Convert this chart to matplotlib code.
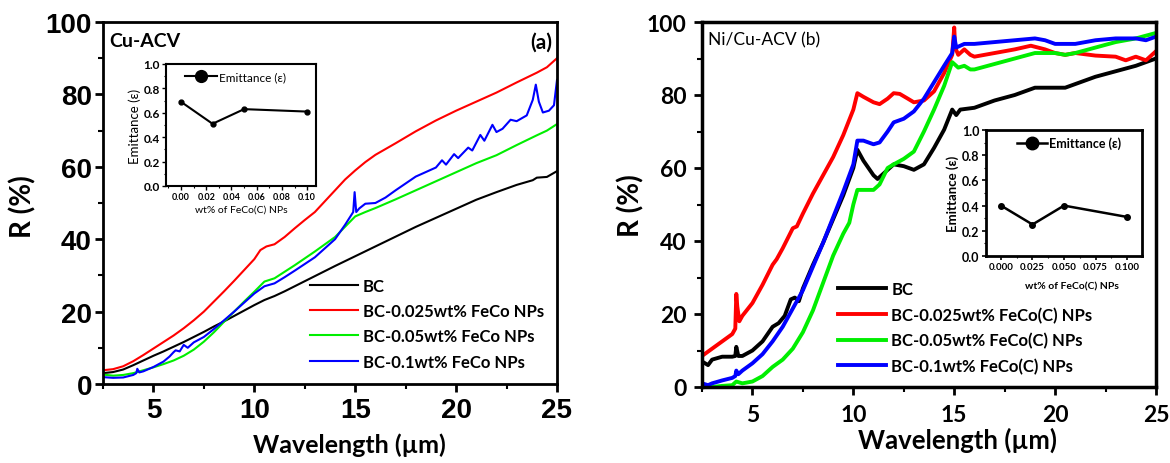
import matplotlib
matplotlib.use("Agg")
import matplotlib.pyplot as plt
from matplotlib.ticker import MultipleLocator, FormatStrFormatter
from matplotlib.lines import Line2D

# ---------------- data: panel (a) Cu-ACV ----------------
a_bc_x = [2.5, 3, 3.5, 4, 4.5, 5, 5.5, 6, 6.5, 7, 7.5, 8, 8.5, 9, 9.5, 10, 10.5, 11, 11.5, 12, 13, 14, 15,
          16, 17, 18, 19, 20, 21, 22, 23, 23.8, 24, 24.5, 25]
a_bc_y = [3.0, 3.3, 4.0, 5.2, 6.5, 7.8, 9.0, 10.3, 11.6, 13.0, 14.4, 15.9, 17.3, 18.8, 20.3, 21.8, 23.2, 24.3,
          25.6, 27.0, 29.8, 32.6, 35.3, 38.0, 40.7, 43.4, 45.9, 48.4, 50.9, 53.0, 55.0, 56.3, 57.0, 57.2, 58.8]

a_red_x = [2.5, 3, 3.5, 4, 4.5, 5, 5.5, 6, 6.5, 7, 7.5, 8, 8.5, 9, 9.5, 10, 10.3, 10.6, 11, 11.5, 12, 12.5, 13,
           13.5, 14, 14.5, 15, 15.5, 16, 17, 18, 19, 20, 21, 22, 23, 24, 24.5, 25]
a_red_y = [3.8, 4.1, 4.9, 6.3, 8.0, 9.8, 11.6, 13.4, 15.4, 17.6, 20.0, 22.8, 25.6, 28.5, 31.5, 34.5, 37.0, 38.0,
           38.6, 40.6, 43.0, 45.3, 47.5, 50.5, 53.5, 56.5, 59.0, 61.3, 63.3, 66.5, 69.8, 72.8, 75.5, 78.0, 80.5,
           83.3, 86.0, 87.5, 90.0]

a_grn_x = [2.5, 3, 3.5, 4, 4.5, 5, 5.5, 6, 6.5, 7, 7.5, 8, 8.5, 9, 9.5, 10, 10.5, 11, 12, 13, 14, 15, 15.5, 16,
           17, 18, 19, 20, 21, 22, 23, 24, 24.5, 25]
a_grn_y = [2.6, 2.3, 2.5, 3.0, 3.8, 4.6, 5.5, 6.5, 7.8, 9.5, 11.7, 14.3, 17.2, 20.0, 22.8, 25.5, 28.3, 29.2, 32.8,
           36.6, 40.6, 46.3, 47.5, 48.6, 51.0, 53.5, 56.0, 58.5, 61.0, 63.2, 66.0, 68.7, 70.0, 71.8]

a_blu_x = [2.5, 3, 3.5, 4, 4.15, 4.2, 4.3, 4.5, 5, 5.5, 5.8, 6, 6.1, 6.3, 6.5, 6.7, 7, 7.5, 8, 8.5, 9, 9.5, 10,
           10.5, 11, 11.5, 12, 13, 14, 14.5, 14.9, 14.97, 15.05, 15.2, 15.5, 16, 16.5, 17, 18, 19, 19.3, 19.5,
           19.9, 20.1, 20.6, 20.8, 21.2, 21.4, 21.8, 22.0, 22.3, 22.7, 23.0, 23.5, 23.8, 23.95, 24.1, 24.3, 24.6,
           24.85, 25]
a_blu_y = [1.9, 1.7, 1.8, 2.5, 3.0, 4.2, 3.2, 3.5, 4.7, 6.2, 7.6, 8.8, 9.3, 9.0, 10.8, 10.0, 11.5, 13.0, 15.2,
           17.6, 20.0, 22.5, 25.0, 27.0, 27.8, 29.5, 31.3, 35.0, 40.0, 44.0, 47.5, 53.0, 47.5, 48.5, 49.8, 50.0,
           51.5, 53.5, 57.3, 59.8, 61.8, 60.6, 63.5, 62.4, 65.3, 64.5, 68.8, 67.2, 71.6, 69.6, 70.5, 73.0, 72.6,
           74.2, 78.5, 82.7, 78.0, 75.0, 75.5, 77.0, 84.0]

# ---------------- data: panel (b) Ni/Cu-ACV ----------------
b_bc_x = [2.5, 2.8, 3.0, 3.5, 4.0, 4.15, 4.2, 4.3, 4.5, 5, 5.5, 6, 6.3, 6.6, 6.9, 7.1, 7.3, 7.5, 8, 8.5, 9, 9.5,
          10, 10.2, 10.5, 11, 11.2, 11.5, 12, 12.5, 13, 13.5, 14, 14.5, 14.9, 15.1, 15.3, 16, 17, 18, 19, 20,
          20.5, 21, 22, 23, 24, 25]
b_bc_y = [7.0, 6.0, 7.5, 8.3, 8.3, 8.5, 11.0, 8.5, 8.5, 10.0, 12.5, 16.5, 17.5, 19.5, 24.0, 24.5, 23.5, 27.0,
          33.5, 39.5, 46.0, 52.5, 60.0, 65.0, 62.0, 58.0, 57.0, 58.5, 61.0, 60.5, 59.5, 61.0, 65.5, 70.5, 76.0,
          74.5, 76.0, 76.5, 78.5, 80.0, 82.0, 82.0, 82.0, 83.0, 85.0, 86.5, 88.0, 90.0]

b_red_x = [2.5, 3, 3.5, 4, 4.15, 4.2, 4.25, 4.35, 4.5, 5, 5.5, 6, 6.2, 6.5, 7, 7.2, 7.5, 8, 8.5, 9, 9.5, 10,
           10.2, 10.5, 11, 11.3, 11.7, 12, 12.3, 12.7, 13, 13.5, 14, 14.5, 14.9, 15.0, 15.05, 15.2, 15.5, 15.8,
           16, 17, 18, 18.8, 19.5, 20, 20.5, 21, 22, 23, 23.5, 24, 24.5, 25]
b_red_y = [8.5, 10.5, 12.5, 14.5, 16.0, 25.5, 22.0, 18.0, 19.5, 23.0, 28.0, 33.5, 35.0, 38.0, 43.5, 44.0, 47.5,
           53.0, 58.0, 63.0, 69.0, 76.0, 80.5, 79.5, 78.0, 77.5, 79.0, 80.5, 80.3, 79.0, 78.0, 78.5, 81.0, 86.0,
           91.0, 98.5, 93.0, 91.0, 92.5, 91.0, 90.5, 91.5, 92.5, 93.5, 92.5, 91.5, 91.0, 91.5, 90.8, 90.5, 89.5,
           90.5, 89.5, 92.0]

b_grn_x = [2.5, 3, 3.5, 4, 4.2, 4.5, 5, 5.5, 6, 6.5, 7, 7.5, 8, 8.5, 9, 9.5, 9.8, 10, 10.2, 10.5, 11, 11.3, 11.7,
           12, 12.5, 13, 13.5, 14, 14.5, 14.9, 15.2, 15.5, 15.8, 16, 17, 18, 19, 20, 20.5, 21, 22, 23, 24, 25]
b_grn_y = [0.0, 0.0, 0.3, 0.5, 1.5, 1.0, 1.5, 3.0, 5.5, 7.5, 10.5, 15.0, 21.0, 28.5, 36.0, 42.0, 45.0, 50.0,
           54.0, 54.0, 54.0, 55.5, 60.0, 61.0, 62.5, 64.5, 70.0, 76.0, 82.5, 89.0, 87.5, 88.0, 87.0, 87.0, 88.5,
           90.0, 91.5, 91.5, 91.0, 91.5, 93.0, 94.5, 95.5, 97.0]

b_blu_x = [2.5, 2.8, 3, 3.5, 4, 4.15, 4.2, 4.3, 4.5, 5, 5.5, 6, 6.5, 7, 7.5, 8, 8.5, 9, 9.5, 10, 10.2, 10.5, 11,
           11.3, 11.7, 12, 12.5, 13, 13.5, 14, 14.5, 14.9, 15.0, 15.1, 15.5, 16, 17, 18, 19, 19.5, 20, 20.5, 21,
           22, 23, 24, 24.5, 25]
b_blu_y = [1.0, 0.5, 1.0, 1.8, 2.5, 3.0, 4.5, 3.5, 4.5, 6.5, 9.0, 12.5, 16.5, 21.5, 26.5, 33.0, 39.5, 46.5, 53.5,
           61.0, 67.5, 67.5, 66.5, 67.0, 70.0, 72.5, 73.5, 75.5, 79.0, 83.5, 88.0, 91.5, 96.0, 93.0, 94.0, 94.0,
           94.5, 95.0, 95.5, 95.0, 94.0, 94.0, 94.0, 95.0, 95.5, 95.5, 95.0, 96.0]

# ---------------- inset data ----------------
emit_x = [0.0, 0.025, 0.05, 0.10]
a_emit = [0.69, 0.51, 0.63, 0.61]
b_emit = [0.40, 0.25, 0.40, 0.31]

labels_a = ["BC", "BC-0.025wt% FeCo NPs", "BC-0.05wt% FeCo NPs", "BC-0.1wt% FeCo NPs"]
labels_b = ["BC", "BC-0.025wt% FeCo(C) NPs", "BC-0.05wt% FeCo(C) NPs", "BC-0.1wt% FeCo(C) NPs"]
colors = ["#000000", "#ff0000", "#00ee00", "#0000ff"]

HUM = ["Lato", "DejaVu Sans"]
ARI = ["Liberation Sans", "DejaVu Sans"]

W, H = 1170, 464
fig = plt.figure(figsize=(W / 100, H / 100), dpi=100)


def box(x0, y0, x1, y1):
    return [x0 / W, 1 - y1 / H, (x1 - x0) / W, (y1 - y0) / H]


def ftext(x, y, s, **kw):
    fig.text(x / W, 1 - y / H, s, ha="center", va="center", **kw)


# ================= panel (a) =================
ax1 = fig.add_axes(box(103, 23, 557, 385))
for xs, ys, c, lab in zip([a_bc_x, a_red_x, a_grn_x, a_blu_x], [a_bc_y, a_red_y, a_grn_y, a_blu_y], colors, labels_a):
    ax1.plot(xs, ys, color=c, lw=1.5, label=lab)
ax1.set_xlim(2.5, 25)
ax1.set_ylim(0, 100)
ax1.xaxis.set_major_locator(MultipleLocator(5))
ax1.xaxis.set_minor_locator(MultipleLocator(2.5))
ax1.yaxis.set_major_locator(MultipleLocator(20))
ax1.yaxis.set_minor_locator(MultipleLocator(10))
for s in ax1.spines.values():
    s.set_linewidth(2)
ax1.tick_params(which="major", direction="out", length=6, width=2, pad=2)
ax1.tick_params(which="minor", direction="out", length=3.5, width=1.5)
ax1.tick_params(axis="x", which="major", pad=3)
for lbl in ax1.get_xticklabels() + ax1.get_yticklabels():
    lbl.set_family(ARI)
    lbl.set_fontweight("bold")
    lbl.set_fontsize(20)
ax1.text(0.014, 0.948, "Cu-ACV", transform=ax1.transAxes, family=HUM, fontweight="bold",
         fontsize=14, ha="left", va="center")
ax1.text(0.99, 0.945, "(a)", transform=ax1.transAxes, family=HUM, fontweight="bold",
         fontsize=15, ha="right", va="center")
leg1 = ax1.legend(loc="upper left", bbox_to_anchor=(0.456, 0.294), frameon=False, borderpad=0,
                  borderaxespad=0, handlelength=2.85, handletextpad=0.3, labelspacing=0.56,
                  prop={"family": HUM, "weight": "bold", "size": 12})
ftext(23, 207, "R (%)", family=HUM, fontweight="bold", fontsize=20, rotation=90)
ftext(349, 445, "Wavelength (\u00b5m)", family=HUM, fontweight="bold", fontsize=18)

# inset (a)
in1 = fig.add_axes(box(166, 65, 316, 187))
in1.plot(emit_x, a_emit, color="black", lw=1.5, marker="o", ms=3.5)
in1.set_xlim(-0.0119, 0.107)
in1.set_ylim(0, 1)
in1.xaxis.set_major_locator(MultipleLocator(0.02))
in1.xaxis.set_minor_locator(MultipleLocator(0.01))
in1.yaxis.set_major_locator(MultipleLocator(0.2))
in1.yaxis.set_minor_locator(MultipleLocator(0.1))
in1.xaxis.set_major_formatter(FormatStrFormatter("%.2f"))
in1.yaxis.set_major_formatter(FormatStrFormatter("%.1f"))
for s in in1.spines.values():
    s.set_linewidth(1.5)
in1.tick_params(which="major", direction="out", length=3, width=1, pad=1.5)
in1.tick_params(which="minor", direction="out", length=1.5, width=0.8)
for lbl in in1.get_xticklabels():
    lbl.set_family(HUM); lbl.set_fontweight("bold"); lbl.set_fontsize(6.5)
for lbl in in1.get_yticklabels():
    lbl.set_family(HUM); lbl.set_fontweight("bold"); lbl.set_fontsize(8.5)
in1.set_ylabel("Emittance (\u03b5)", family=HUM, fontsize=9.5, labelpad=2)
ftext(241, 210, "wt% of FeCo(C) NPs", family=HUM, fontsize=7.5)
h1 = Line2D([], [], color="black", lw=1.5, marker="o", ms=8.5)
in1.legend([h1], ["Emittance (\u03b5)"], loc="center left", bbox_to_anchor=(0.127, 0.893), frameon=False,
           borderpad=0, borderaxespad=0, handlelength=2.7, handletextpad=0.2,
           prop={"family": HUM, "size": 8.5})

# ================= panel (b) =================
ax2 = fig.add_axes(box(702, 23, 1156, 388))
for xs, ys, c, lab in zip([b_bc_x, b_red_x, b_grn_x, b_blu_x], [b_bc_y, b_red_y, b_grn_y, b_blu_y], colors, labels_b):
    ax2.plot(xs, ys, color=c, lw=2.8, label=lab)
ax2.set_xlim(2.5, 25)
ax2.set_ylim(0, 100)
ax2.xaxis.set_major_locator(MultipleLocator(5))
ax2.xaxis.set_minor_locator(MultipleLocator(2.5))
ax2.yaxis.set_major_locator(MultipleLocator(20))
ax2.yaxis.set_minor_locator(MultipleLocator(10))
for s in ax2.spines.values():
    s.set_linewidth(2.5)
ax2.tick_params(which="major", direction="out", length=6, width=2, pad=5)
ax2.tick_params(which="minor", direction="out", length=3.5, width=1.5)
ax2.tick_params(axis="x", which="major", pad=6)
for lbl in ax2.get_xticklabels() + ax2.get_yticklabels():
    lbl.set_family(HUM)
    lbl.set_fontweight("bold")
    lbl.set_fontsize(16.5)
ax2.text(0.013, 0.953, "Ni/Cu-ACV (b)", transform=ax2.transAxes, family=HUM,
         fontsize=12.5, ha="left", va="center")
leg2 = ax2.legend(loc="upper left", bbox_to_anchor=(0.2996, 0.29), frameon=False, borderpad=0,
                  borderaxespad=0, handlelength=2.9, handletextpad=0.3, labelspacing=0.56,
                  prop={"family": HUM, "weight": "bold", "size": 12})
ftext(631, 206, "R (%)", family=HUM, fontweight="bold", fontsize=20, rotation=90)
ftext(957, 440, "Wavelength (\u00b5m)", family=HUM, fontweight="bold", fontsize=18.5)

# inset (b)
in2 = fig.add_axes(box(986, 131, 1142, 257))
in2.plot(emit_x, b_emit, color="black", lw=1.8, marker="o", ms=4)
in2.set_xlim(-0.0119, 0.1119)
in2.set_ylim(0, 1)
in2.xaxis.set_major_locator(MultipleLocator(0.025))
in2.xaxis.set_minor_locator(MultipleLocator(0.0125))
in2.yaxis.set_major_locator(MultipleLocator(0.2))
in2.yaxis.set_minor_locator(MultipleLocator(0.1))
in2.xaxis.set_major_formatter(FormatStrFormatter("%.3f"))
in2.yaxis.set_major_formatter(FormatStrFormatter("%.1f"))
for s in in2.spines.values():
    s.set_linewidth(2)
in2.tick_params(which="major", direction="out", length=3, width=1.2, pad=1.5)
in2.tick_params(which="minor", direction="out", length=1.5, width=0.8)
for lbl in in2.get_xticklabels():
    lbl.set_family(HUM); lbl.set_fontweight("bold"); lbl.set_fontsize(7)
for lbl in in2.get_yticklabels():
    lbl.set_family(HUM); lbl.set_fontweight("bold"); lbl.set_fontsize(9)
in2.set_ylabel("Emittance (\u03b5)", family=HUM, fontweight="bold", fontsize=9.5, labelpad=2)
ftext(1072, 287, "wt% of FeCo(C) NPs", family=HUM, fontweight="bold", fontsize=7.5)
h2 = Line2D([], [], color="black", lw=1.8, marker="o", ms=9)
in2.legend([h2], ["Emittance (\u03b5)"], loc="center left", bbox_to_anchor=(0.199, 0.897), frameon=False,
           borderpad=0, borderaxespad=0, handlelength=2.4, handletextpad=0.15,
           prop={"family": HUM, "weight": "bold", "size": 9})

fig.savefig("out.png", dpi=100)
